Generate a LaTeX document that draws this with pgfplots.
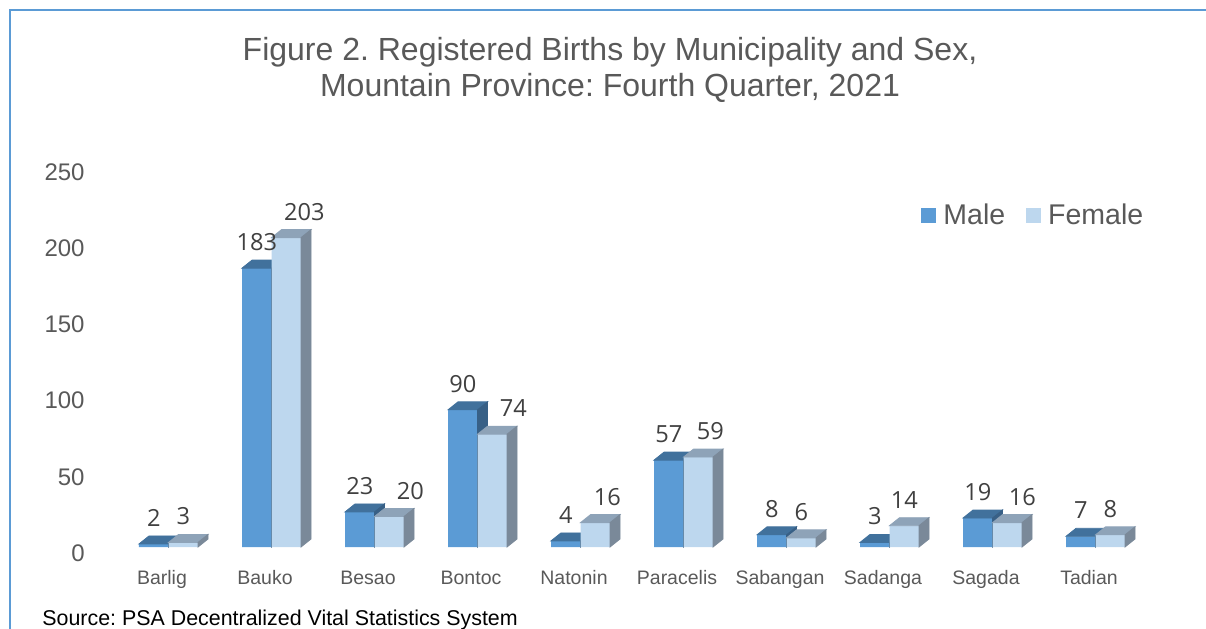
\documentclass[border=0pt]{standalone}
\usepackage{pgfplots}
\usepackage{pgfplotstable}
\pgfplotsset{compat=1.18}
\usepackage{fontspec}
\setmainfont{Liberation Sans}
\newfontfamily\labelfont{Open Sans}
\frenchspacing

\definecolor{malefront}{RGB}{91,155,213}
\definecolor{maletop}{RGB}{65,113,156}
\definecolor{maleside}{RGB}{56,96,134}
\definecolor{femfront}{RGB}{189,215,238}
\definecolor{femtop}{RGB}{142,163,184}
\definecolor{femside}{RGB}{122,137,153}
\definecolor{txtgray}{RGB}{89,89,89}
\definecolor{lblgray}{RGB}{64,64,64}
\definecolor{frameblue}{RGB}{91,155,213}

\pgfdeclareplotmark{nothing}{}

% births by municipality; fdx = sideways nudge of the female label (pt)
\pgfplotstableread{
idx male female fdx
0   2    3      0
1   183  203    9
2   23   20     10.5
3   90   74     10.5
4   4    16     6
5   57   59     6
6   8    6      0
7   3    14     0
8   19   16     7.5
9   7    8      0
}\births

% top and side faces of a bar: #1 left edge (pt), #2 top colour, #3 side colour
% bar width 14.75pt, depth 5pt x 4pt, y unit 0.762pt
\pgfplotsset{
  faces/.style n args={3}{
    only marks, mark=nothing, scatter, forget plot,
    visualization depends on={rawy \as \rawy},
    scatter/@pre marker code/.code={
      \fill[#2] (#1pt,0pt) -- ({#1pt+14.75pt},0pt) -- ({#1pt+19.75pt},4pt)
        -- ({#1pt+5pt},4pt) -- cycle;
      \fill[#3] ({#1pt+14.75pt},0pt) -- ({#1pt+19.75pt},4pt)
        -- ({#1pt+19.75pt},{4pt-\rawy*0.762pt}) -- ({#1pt+14.75pt},{-\rawy*0.762pt}) -- cycle;
    },
    scatter/@post marker code/.code={},
  },
  labels/.style={
    only marks, mark=nothing, forget plot, nodes near coords,
    nodes near coords style={anchor=base, inner sep=0pt, yshift=8.75pt,
      font=\labelfont\fontsize{11.8}{13}\selectfont, text=lblgray},
  },
}

\begin{document}
\begin{tikzpicture}
\begin{axis}[
  x=51.5pt, y=0.762pt,
  xmin=-0.7, xmax=9.7, ymin=0, ymax=250,
  clip=false, clip mode=individual,
  axis line style={draw=none},
  tick style={draw=none},
  xtick={0,...,9},
  xticklabels={Barlig,Bauko,Besao,Bontoc,Natonin,Paracelis,Sabangan,Sadanga,Sagada,Tadian},
  ytick={0,50,...,250},
  /pgf/number format/assume math mode=true,
  yticklabel style={font=\fontsize{12}{14}\selectfont, text=txtgray, anchor=east, inner sep=0pt, xshift=-5.7pt, yshift=-3pt},
  xticklabel style={font=\fontsize{9.75}{11}\selectfont, text=txtgray, anchor=north, inner sep=0pt, text height=7.3pt, text depth=2pt, yshift=-11.2pt, xshift=-3.25pt},
  legend columns=2,
  legend style={at={(axis cs:7.306,217.2)}, anchor=west, draw=none, fill=none,
    font=\fontsize{14.25}{16}\selectfont, text=txtgray, inner sep=0pt,
    nodes={inner sep=0pt},
    /tikz/every odd column/.append style={column sep=3.5pt},
    /tikz/every even column/.append style={column sep=10.5pt}},
  legend image code/.code={\fill[#1] (0pt,-3.75pt) rectangle (7.5pt,3.75pt);},
]
\addplot[ybar, bar width=14.75pt, bar shift=-7.375pt, fill=malefront, draw=none]
  table[x=idx, y=male] {\births};
\addlegendentry{Male}
\addplot[faces={-14.75}{maletop}{maleside}] table[x=idx, y=male] {\births};
\addplot[ybar, bar width=14.75pt, bar shift=7.375pt, fill=femfront, draw=none]
  table[x=idx, y=female] {\births};
\addlegendentry{Female}
\addplot[faces={0}{femtop}{femside}] table[x=idx, y=female] {\births};

% value labels last, so they sit over the bars
\addplot[labels, nodes near coords style={xshift=-7.375pt}] table[x=idx, y=male] {\births};
\addplot[labels, visualization depends on={\thisrow{fdx}+7.375 \as \fdx},
  nodes near coords style={xshift=\fdx pt}] table[x=idx, y=female] {\births};
\end{axis}

% page frame, title and source in pixel units of the reference
\begin{scope}[x=0.5pt, y=-0.5pt, shift={(-48.2pt,273.5pt)}]
  \pgfresetboundingbox
  \useasboundingbox (0,0) rectangle (1206,628);
  \draw[frameblue, line width=0.75pt] (10,660) -- (10,10) -- (1220,10);
  \node[anchor=base, text=txtgray, font=\fontsize{16}{18}\selectfont] at (610,61)
    {Figure 2. Registered Births by Municipality and Sex,};
  \node[anchor=base, text=txtgray, font=\fontsize{16}{18}\selectfont] at (610,97)
    {Mountain Province: Fourth Quarter, 2021};
  \node[anchor=base west, inner sep=0pt, font=\fontsize{10.7}{12}\selectfont] at (42,625)
    {Source: PSA Decentralized Vital Statistics System};
\end{scope}
\end{tikzpicture}
\end{document}
